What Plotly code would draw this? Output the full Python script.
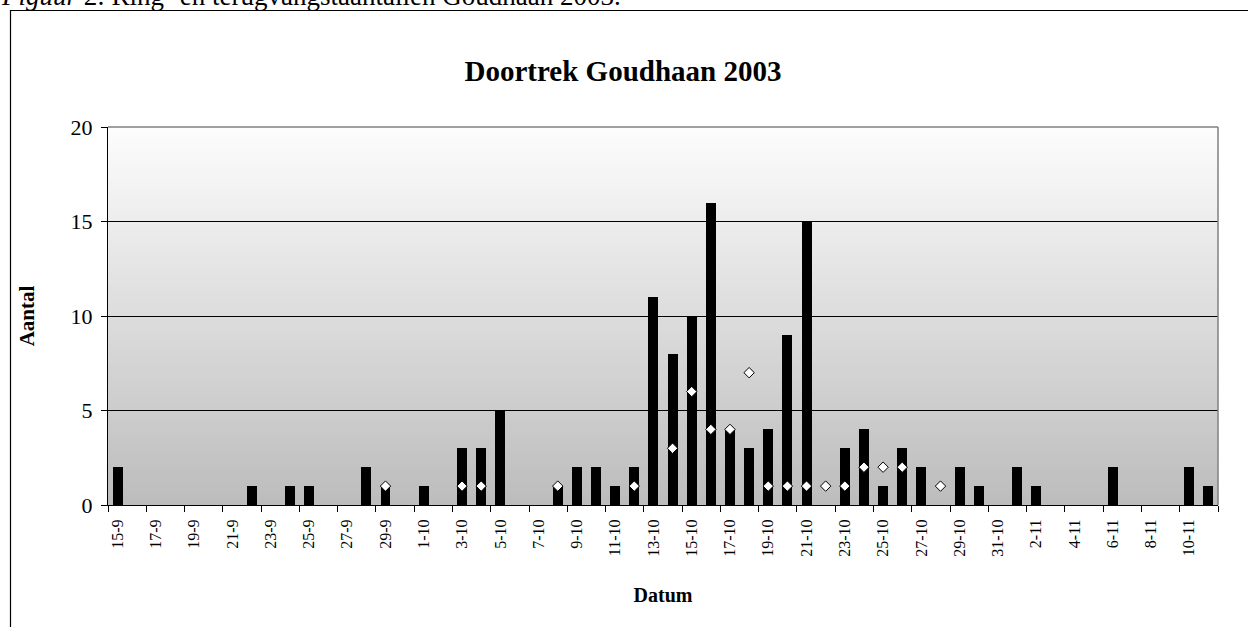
"""Doortrek Goudhaan 2003: ring- en terugvangstaantallen per dag."""

import plotly.graph_objects as go

SERIF = "Liberation Serif"

DATES = [
    "15-9", "16-9", "17-9", "18-9", "19-9", "20-9", "21-9", "22-9", "23-9", "24-9",
    "25-9", "26-9", "27-9", "28-9", "29-9", "30-9",
    "1-10", "2-10", "3-10", "4-10", "5-10", "6-10", "7-10", "8-10", "9-10", "10-10",
    "11-10", "12-10", "13-10", "14-10", "15-10", "16-10", "17-10", "18-10", "19-10", "20-10",
    "21-10", "22-10", "23-10", "24-10", "25-10", "26-10", "27-10", "28-10", "29-10", "30-10",
    "31-10",
    "1-11", "2-11", "3-11", "4-11", "5-11", "6-11", "7-11", "8-11", "9-11", "10-11",
    "11-11",
]

# geringde vogels per dag
RINGED = [
    2, 0, 0, 0, 0, 0, 0, 1, 0, 1,
    1, 0, 0, 2, 1, 0,
    1, 0, 3, 3, 5, 0, 0, 1, 2, 2,
    1, 2, 11, 8, 10, 16, 4, 3, 4, 9,
    15, 0, 3, 4, 1, 3, 2, 0, 2, 1,
    0,
    2, 1, 0, 0, 0, 2, 0, 0, 0, 2,
    1,
]

# terugvangsten per dag (None = geen)
RECAPTURED = [
    None, None, None, None, None, None, None, None, None, None,
    None, None, None, None, 1, None,
    None, None, 1, 1, None, None, None, 1, None, None,
    None, 1, None, 3, 6, 4, 4, 7, 1, 1,
    1, 1, 1, 2, 2, 2, None, 1, None, None,
    None,
    None, None, None, None, None, None, None, None, None, None,
    None,
]

Y_TICKS = [0, 5, 10, 15, 20]

# page margin is removed in post_script, so the figure fills the window
W, H = 1248, 627
L, T = 108, 127
PW, PH = 1110, 378


def gradient_strips(n=90, top=253, bottom=188):
    """Vertical grey gradient for the plot area (Excel style)."""
    shapes = []
    for i in range(n):
        c = round(bottom + (top - bottom) * (i + 0.5) / n)
        shapes.append(
            dict(
                type="rect", xref="x domain", yref="y domain",
                x0=0, x1=1, y0=i / n, y1=(i + 1) / n + 0.002,
                fillcolor=f"rgb({c},{c},{c})", line=dict(width=0), layer="below",
            )
        )
    return shapes


def px_x(px):
    return (px - L) / PW


def px_y(py):
    return (T + PH - py) / PH


def doortrek_chart() -> go.Figure:
    x = list(range(len(DATES)))
    fig = go.Figure()
    fig.add_trace(
        go.Bar(
            x=x,
            y=RINGED,
            width=0.52,
            marker=dict(color="black", line=dict(width=0)),
            name="Geringd",
            hovertemplate="%{customdata}: %{y}<extra></extra>",
            customdata=DATES,
        )
    )
    fig.add_trace(
        go.Scatter(
            x=x,
            y=RECAPTURED,
            mode="markers",
            marker=dict(symbol="diamond", size=8, color="white", line=dict(color="black", width=1)),
            name="Terugvangst",
            hovertemplate="%{customdata}: %{y}<extra></extra>",
            customdata=DATES,
        )
    )

    shapes = gradient_strips()
    # rand plotgebied (grijs, boven en rechts)
    shapes.append(dict(type="line", xref="x domain", yref="y domain", x0=0, x1=1, y0=1, y1=1,
                       line=dict(color="#808080", width=1.5)))
    shapes.append(dict(type="line", xref="x domain", yref="y domain", x0=1, x1=1, y0=0, y1=1,
                       line=dict(color="#808080", width=1.5)))
    # rand grafiekgebied: alleen links en boven zichtbaar
    bx, by_top, by_bot, bx_r = px_x(10.5), px_y(10.5), px_y(640), px_x(1260)
    shapes.append(dict(type="path", xref="paper", yref="paper",
                       path=f"M {bx},{by_bot} L {bx},{by_top} L {bx_r},{by_top}",
                       line=dict(color="black", width=1.2)))

    fig.update_layout(
        width=W,
        height=H,
        margin=dict(l=L, r=W - L - PW, t=T, b=H - T - PH),
        paper_bgcolor="white",
        plot_bgcolor="white",
        showlegend=False,
        bargap=0,
        font=dict(family=SERIF, color="black"),
        title=dict(
            text="<b>Doortrek Goudhaan 2003</b>",
            x=623 / W, xanchor="center",
            y=1 - 71 / H, yanchor="middle",
            font=dict(family=SERIF, size=29, color="black"),
        ),
        shapes=shapes,
        annotations=[
            dict(
                text="<i>Figuur</i> 2: Ring- en terugvangstaantallen Goudhaan 2003.",
                xref="paper", yref="paper",
                x=px_x(0), xanchor="left",
                y=px_y(12.5), yanchor="bottom",
                showarrow=False, borderpad=0,
                font=dict(family=SERIF, size=27, color="black"),
            )
        ],
    )
    fig.update_xaxes(
        range=[-0.5, len(DATES) - 0.5],
        tickmode="array",
        tickvals=x[::2],
        ticktext=DATES[::2],
        tickangle=-90,
        tickfont=dict(family=SERIF, size=16, color="black"),
        ticklabelstandoff=7,
        ticks="",
        minor=dict(
            tickmode="array",
            tickvals=[v - 0.5 for v in x[::2]] + [len(DATES) - 0.5],
            ticks="outside", ticklen=6, tickcolor="black", tickwidth=1, showgrid=False,
        ),
        showline=True, linecolor="black", linewidth=1,
        showgrid=False, zeroline=False,
        title=dict(text="<b>Datum</b>", font=dict(family=SERIF, size=20, color="black"), standoff=32),
    )
    fig.update_yaxes(
        range=[0, 20],
        tickmode="array",
        tickvals=Y_TICKS,
        tickfont=dict(family=SERIF, size=22, color="black"),
        ticklabelstandoff=4,
        ticks="outside", ticklen=6, tickcolor="black",
        showline=True, linecolor="black", linewidth=1,
        showgrid=True, gridcolor="black", gridwidth=1,
        zeroline=False,
        title=dict(text="<b>Aantal</b>", font=dict(family=SERIF, size=21, color="black"), standoff=30),
    )
    return fig


fig = doortrek_chart()
fig.write_html(
    "out.html",
    config=dict(displayModeBar=False),
    post_script="document.body.style.margin = '0'; document.body.style.overflow = 'hidden';",
)
